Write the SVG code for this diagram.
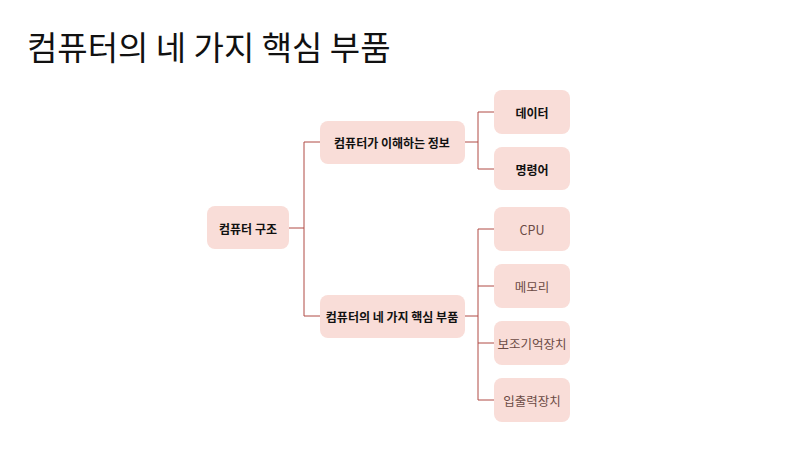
<svg xmlns="http://www.w3.org/2000/svg" width="800" height="461" viewBox="0 0 800 461">
<style>
.n{fill:#f9ddd8}
.t{font-family:"Noto Sans CJK KR","Noto Sans",sans-serif;font-size:12px;text-anchor:middle;dominant-baseline:central;fill:#111;font-weight:bold}
.l{fill:#6b4a44;font-weight:normal;font-size:12.5px}
.c{fill:none;stroke:#b04a44;stroke-width:1}
</style>
<rect width="800" height="461" fill="#fff"/>
<text x="27" y="60" font-family="'Noto Sans CJK KR',sans-serif" font-size="33" fill="#111">컴퓨터의 네 가지 핵심 부품</text>
<g id="connectors">
<path class="c" d="M289 228H304M304 142V316M304 142H320M304 316H320"/>
<path class="c" d="M464 142H478M478 112V169M478 112H494M478 169H494"/>
<path class="c" d="M464 316H478M478 229V400M478 229H494M478 286H494M478 343H494M478 400H494"/>
</g>
<g id="root"><rect class="n" x="207" y="206" width="82" height="43" rx="8"/><text class="t" x="248" y="228">컴퓨터 구조</text></g>
<g id="info"><rect class="n" x="320" y="121" width="145" height="43" rx="8"/><text class="t" x="392" y="142">컴퓨터가 이해하는 정보</text></g>
<g id="parts"><rect class="n" x="320" y="295" width="145" height="43" rx="8"/><text class="t" x="392" y="316">컴퓨터의 네 가지 핵심 부품</text></g>
<g id="data"><rect class="n" x="494" y="90" width="76" height="44" rx="8"/><text class="t" x="532" y="112">데이터</text></g>
<g id="cmd"><rect class="n" x="494" y="147" width="76" height="43" rx="8"/><text class="t" x="532" y="169">명령어</text></g>
<g id="cpu"><rect class="n" x="494" y="207" width="76" height="44" rx="8"/><text class="t l" x="532" y="229">CPU</text></g>
<g id="mem"><rect class="n" x="494" y="264" width="76" height="44" rx="8"/><text class="t l" x="532" y="286">메모리</text></g>
<g id="storage"><rect class="n" x="494" y="321" width="76" height="44" rx="8"/><text class="t l" x="532" y="343">보조기억장치</text></g>
<g id="io"><rect class="n" x="494" y="378" width="76" height="44" rx="8"/><text class="t l" x="532" y="400">입출력장치</text></g>
</svg>
